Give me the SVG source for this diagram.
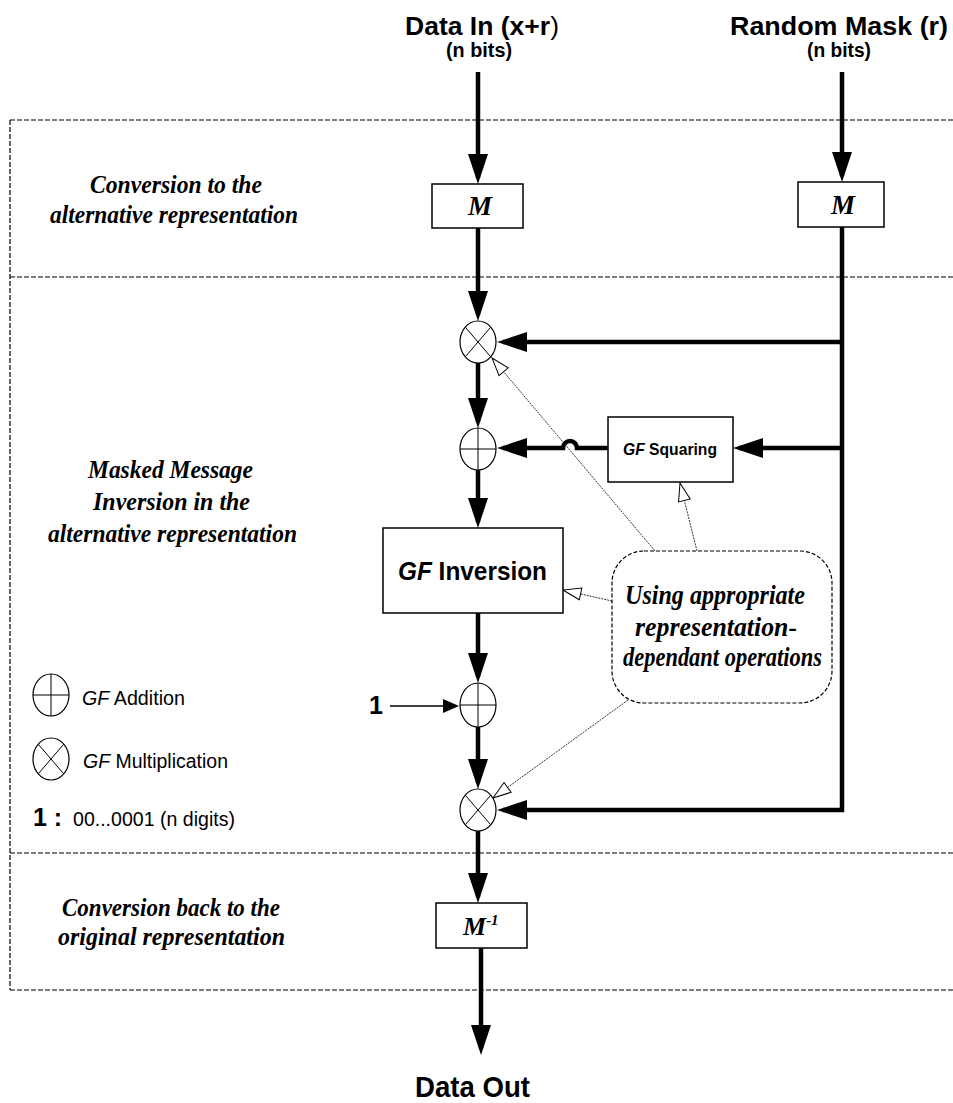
<svg xmlns="http://www.w3.org/2000/svg" width="953" height="1103" viewBox="0 0 953 1103">
<style>
.sans{font-family:"Liberation Sans",Arial,sans-serif;fill:#000}
.serif{font-family:"Liberation Serif","Times New Roman",serif;font-style:italic;font-weight:bold;fill:#000}
.box{fill:#fff;stroke:#000;stroke-width:1.5}
.op{fill:#fff;stroke:#000;stroke-width:1.2}
.opl{stroke:#000;stroke-width:1}
.thick{fill:none;stroke:#000;stroke-width:4.5}
.thin{fill:none;stroke:#000;stroke-width:1.3}
.dot{fill:none;stroke:#333;stroke-width:1;stroke-dasharray:2 1}
.region{fill:none;stroke:#000;stroke-width:1.2;stroke-dasharray:5 2}
</style>
<defs>
<marker id="big" viewBox="0 0 30 20" refX="24" refY="10" markerWidth="30" markerHeight="20" markerUnits="userSpaceOnUse" orient="auto">
<path d="M0,0 L30,10 L0,20 z" fill="#000"/>
</marker>
<marker id="small" viewBox="0 0 16 14" refX="14" refY="7" markerWidth="16" markerHeight="14" markerUnits="userSpaceOnUse" orient="auto">
<path d="M0,0 L16,7 L0,14 z" fill="#000"/>
</marker>
<marker id="open" viewBox="0 0 20 14" refX="19" refY="7" markerWidth="20" markerHeight="14" markerUnits="userSpaceOnUse" orient="auto">
<path d="M1,1 L19,7 L1,13 z" fill="#fff" stroke="#000" stroke-width="1"/>
</marker>
</defs>

<g id="regions">
<path class="region" d="M10,120 H953 M10,277 H953 M10,853 H953 M10,990 H953 M10,120 V990"/>
</g>

<g id="section-labels">
<text class="serif" font-size="26" x="90" y="193" textLength="172" lengthAdjust="spacingAndGlyphs">Conversion to the</text>
<text class="serif" font-size="26" x="50" y="223" textLength="248" lengthAdjust="spacingAndGlyphs">alternative representation</text>
<text class="serif" font-size="26" x="88" y="478" textLength="165" lengthAdjust="spacingAndGlyphs">Masked Message</text>
<text class="serif" font-size="26" x="93" y="510" textLength="157" lengthAdjust="spacingAndGlyphs">Inversion in the</text>
<text class="serif" font-size="26" x="48" y="542" textLength="249" lengthAdjust="spacingAndGlyphs">alternative representation</text>
<text class="serif" font-size="26" x="62" y="916" textLength="218" lengthAdjust="spacingAndGlyphs">Conversion back to the</text>
<text class="serif" font-size="26" x="58" y="945" textLength="227" lengthAdjust="spacingAndGlyphs">original representation</text>
</g>

<g id="input-data">
<text class="sans" font-size="26" font-weight="bold" x="405" y="35" textLength="154" lengthAdjust="spacingAndGlyphs">Data In (x+r<tspan font-weight="normal">)</tspan></text>
<text class="sans" font-size="20" font-weight="bold" x="446" y="57" textLength="66" lengthAdjust="spacingAndGlyphs">(n bits)</text>
</g>
<g id="input-mask">
<text class="sans" font-size="26" font-weight="bold" x="730" y="35" textLength="218" lengthAdjust="spacingAndGlyphs">Random Mask (r)</text>
<text class="sans" font-size="20" font-weight="bold" x="807" y="57" textLength="64" lengthAdjust="spacingAndGlyphs">(n bits)</text>
</g>

<g id="connectors">
<path class="thick" d="M478,72 V178" marker-end="url(#big)"/>
<path class="thick" d="M842,72 V176" marker-end="url(#big)"/>
<path class="thick" d="M478,228 V315" marker-end="url(#big)"/>
<path class="thick" d="M478,363 V422" marker-end="url(#big)"/>
<path class="thick" d="M478,470 V522" marker-end="url(#big)"/>
<path class="thick" d="M478,613 V677" marker-end="url(#big)"/>
<path class="thick" d="M478,727 V783" marker-end="url(#big)"/>
<path class="thick" d="M478,831 V897" marker-end="url(#big)"/>
<path class="thick" d="M481,948 V1049" marker-end="url(#big)"/>
<path class="thick" d="M842,227 V810 H503" marker-end="url(#big)"/>
<path class="thick" d="M842,342 H503" marker-end="url(#big)"/>
<path class="thick" d="M842,448 H739" marker-end="url(#big)"/>
<path class="thick" d="M608,448 H577 A7,7 0 0 0 563,448 H503" marker-end="url(#big)"/>
<path class="thin" d="M390,706 H457" marker-end="url(#small)"/>
<path class="dot" d="M655,551 L492,358" marker-end="url(#open)"/>
<path class="dot" d="M697,551 L680,483" marker-end="url(#open)"/>
<path class="dot" d="M612,601 L563,590" marker-end="url(#open)"/>
<path class="dot" d="M628,700 L493,798" marker-end="url(#open)"/>
</g>

<g id="m-data">
<rect class="box" x="432" y="184" width="91" height="44"/>
<text class="serif" font-size="27" x="480" y="215" text-anchor="middle">M</text>
</g>
<g id="m-mask">
<rect class="box" x="798" y="182" width="86" height="45"/>
<text class="serif" font-size="27" x="843" y="214" text-anchor="middle">M</text>
</g>

<g id="mult1">
<ellipse class="op" cx="478" cy="342" rx="18" ry="21"/>
<path class="opl" d="M465.3,327.2 L490.7,356.8 M490.7,327.2 L465.3,356.8"/>
</g>
<g id="add1">
<ellipse class="op" cx="478" cy="449" rx="18" ry="21"/>
<path class="opl" d="M478,428 V470 M460,449 H496"/>
</g>
<g id="gf-squaring">
<rect class="box" x="608" y="417" width="125" height="65"/>
<text class="sans" font-size="17" font-weight="bold" x="623" y="455" textLength="94" lengthAdjust="spacingAndGlyphs"><tspan font-style="italic">GF</tspan> Squaring</text>
</g>
<g id="gf-inversion">
<rect class="box" x="383" y="528" width="180" height="85"/>
<text class="sans" font-size="25" font-weight="bold" x="398" y="580" textLength="149" lengthAdjust="spacingAndGlyphs"><tspan font-style="italic">GF</tspan> Inversion</text>
</g>
<g id="callout">
<rect x="612" y="551" width="220" height="152" rx="32" ry="32" fill="#fff" stroke="#000" stroke-width="1.2" stroke-dasharray="4 2"/>
<text class="serif" font-size="28" x="625" y="604" textLength="180" lengthAdjust="spacingAndGlyphs">Using appropriate</text>
<text class="serif" font-size="28" x="635" y="636" textLength="162" lengthAdjust="spacingAndGlyphs">representation-</text>
<text class="serif" font-size="28" x="623" y="666" textLength="199" lengthAdjust="spacingAndGlyphs">dependant operations</text>
</g>
<g id="one-input">
<text class="sans" font-size="25" font-weight="bold" x="369" y="714">1</text>
</g>
<g id="add2">
<ellipse class="op" cx="478" cy="705" rx="18" ry="22"/>
<path class="opl" d="M478,683 V727 M460,705 H496"/>
</g>
<g id="mult2">
<ellipse class="op" cx="478" cy="810" rx="18" ry="21"/>
<path class="opl" d="M465.3,795.2 L490.7,824.8 M490.7,795.2 L465.3,824.8"/>
</g>
<g id="m-inverse">
<rect class="box" x="436" y="903" width="91" height="45"/>
<text class="serif" font-size="26" x="463" y="935">M<tspan font-size="15" dy="-10">-1</tspan></text>
</g>
<g id="output">
<text class="sans" font-size="30" font-weight="bold" x="415" y="1097" textLength="115" lengthAdjust="spacingAndGlyphs">Data Out</text>
</g>

<g id="legend">
<ellipse class="op" cx="51" cy="695" rx="18" ry="21"/>
<path class="opl" d="M51,674 V716 M33,695 H69"/>
<text class="sans" font-size="20" x="82" y="705" textLength="103" lengthAdjust="spacingAndGlyphs"><tspan font-style="italic">GF</tspan> Addition</text>
<ellipse class="op" cx="51" cy="759" rx="18" ry="21"/>
<path class="opl" d="M38.3,744.2 L63.7,773.8 M63.7,744.2 L38.3,773.8"/>
<text class="sans" font-size="20" x="83" y="768" textLength="145" lengthAdjust="spacingAndGlyphs"><tspan font-style="italic">GF</tspan> Multiplication</text>
<text class="sans" font-size="25" font-weight="bold" x="33" y="826">1 :</text>
<text class="sans" font-size="20" x="73" y="826" textLength="162" lengthAdjust="spacingAndGlyphs">00...0001 (n digits)</text>
</g>
</svg>
